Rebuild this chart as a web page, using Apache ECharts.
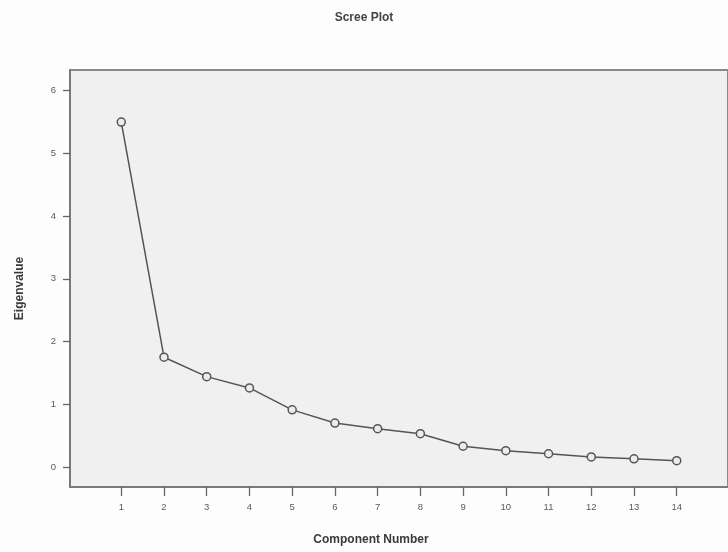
<!DOCTYPE html>
<html>
<head>
<meta charset="utf-8">
<script src="https://cdn.jsdelivr.net/npm/echarts@6/dist/echarts.min.js"></script>
<style>html,body{margin:0;padding:0;background:#fff;}#c{width:728px;height:552px;}</style>
</head>
<body>
<div id="c"></div>
<script>
const components = [1,2,3,4,5,6,7,8,9,10,11,12,13,14];
const eigenvalues = [5.50,1.75,1.44,1.26,0.91,0.70,0.61,0.53,0.33,0.26,0.21,0.16,0.13,0.10];
const yTicks = [0,1,2,3,4,5,6];

const chart = echarts.init(document.getElementById('c'), null, {renderer:'canvas'});
const font = '"Liberation Sans", Arial, sans-serif';
chart.setOption({
  backgroundColor: '#fdfdfd',
  animation: false,
  title: {
    text: 'Scree Plot', left: 'center', top: 7,
    textStyle: {fontFamily: font, fontSize: 12, fontWeight: 'bold', color: '#444'}
  },
  grid: {
    left: 70, right: -3, top: 70, bottom: 65,
    show: true, backgroundColor: '#f0f0f0', borderColor: '#8a8a8a', borderWidth: 2
  },
  graphic: [{
    type: 'text', x: 371, y: 540,
    style: {text: 'Component Number', align: 'center', verticalAlign: 'middle',
      font: 'bold 12px "Liberation Sans", Arial, sans-serif', fill: '#3a3a3a'}
  }],
  xAxis: {
    type: 'value', min: -0.2, max: 15.2,
    splitLine: {show: false},
    axisLine: {show: true, onZero: false, lineStyle: {color: '#7a7a7a', width: 2}},
    axisTick: {show: true, length: 9, customValues: components, lineStyle: {color: '#666', width: 1.3}},
    axisLabel: {customValues: components, margin: 15, fontSize: 9.5, color: '#5a5a5a', fontFamily: font}
  },
  yAxis: {
    type: 'value', min: -0.32, max: 6.33,
    name: 'Eigenvalue', nameLocation: 'middle', nameGap: 44, nameRotate: 90,
    nameTextStyle: {fontFamily: font, fontSize: 12, fontWeight: 'bold', color: '#3a3a3a', padding: [0,0,0,-20]},
    splitLine: {show: false},
    axisLine: {show: true, onZero: false, lineStyle: {color: '#7a7a7a', width: 2}},
    axisTick: {show: true, length: 7, customValues: yTicks, lineStyle: {color: '#666', width: 1.3}},
    axisLabel: {customValues: yTicks, margin: 14, fontSize: 9.5, color: '#5a5a5a', fontFamily: font}
  },
  series: [{
    type: 'line',
    data: components.map((c, i) => [c, eigenvalues[i]]),
    symbol: 'circle', symbolSize: 8,
    lineStyle: {color: '#555', width: 1.5},
    itemStyle: {color: '#ececec', borderColor: '#555', borderWidth: 1.5}
  }]
});
</script>
</body>
</html>
